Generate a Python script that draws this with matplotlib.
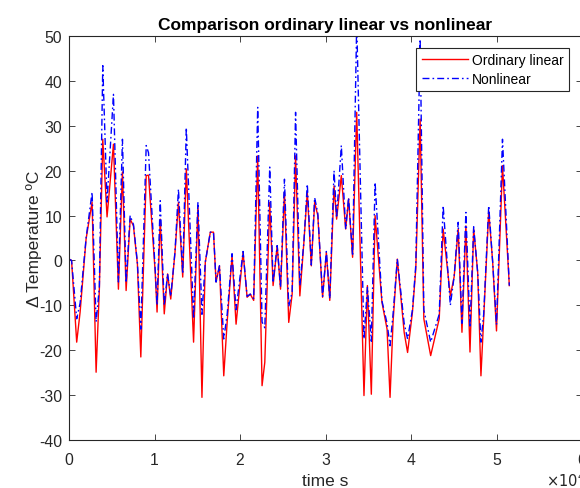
import matplotlib
matplotlib.use("Agg")
import matplotlib.pyplot as plt
import numpy as np

# time in units of 1e4 s
time_e4 = [0.00, 0.03, 0.09, 0.13, 0.20, 0.27, 0.317, 0.355, 0.395, 0.445,
           0.52, 0.578, 0.625, 0.668, 0.715, 0.754, 0.80, 0.84, 0.903, 0.93,
           1.008, 1.03, 1.067, 1.114, 1.153, 1.19, 1.24, 1.28, 1.33, 1.372,
           1.457, 1.508, 1.555, 1.594, 1.653, 1.69, 1.72, 1.76, 1.81, 1.85,
           1.907, 1.954, 2.036, 2.083, 2.12, 2.16, 2.207, 2.258, 2.29, 2.348,
           2.387, 2.435, 2.474, 2.52, 2.57, 2.61, 2.65, 2.70, 2.747, 2.787,
           2.834, 2.873, 2.91, 2.966, 3.01, 3.05, 3.10, 3.13, 3.185, 3.236,
           3.27, 3.317, 3.365, 3.45, 3.49, 3.536, 3.58, 3.66, 3.72, 3.755,
           3.79, 3.84, 3.92, 3.96, 4.017, 4.056, 4.107, 4.15, 4.23, 4.33,
           4.376, 4.46, 4.505, 4.552, 4.596, 4.642, 4.69, 4.733, 4.78, 4.818,
           4.85, 4.909, 4.955, 5.0, 5.07, 5.15]

ordinary_linear = [0.3, 0.0, -18.2, -11.5, 4.8, 13.0, -24.9, -6.4, 27.0, 9.7,
                   25.9, -6.4, 19.7, -6.7, 9.2, 7.7, -0.8, -21.5, 18.9, 19.0,
                   -2.6, -11.5, 9.2, -11.9, -3.0, -8.6, 1.9, 12.9, -3.7, 20.4,
                   -18.2, 12.2, -30.5, -0.4, 6.3, 6.3, -4.8, -1.2, -25.7, -13.7,
                   1.1, -14.2, 1.8, -8.2, -7.5, -8.9, 23.3, -27.9, -22.7, 12.9,
                   -5.6, 3.3, -6.4, 15.2, -13.8, -7.5, 23.3, -7.9, 4.0, 15.2,
                   -1.2, 12.9, 10.0, -8.2, 1.8, -8.9, 16.6, 9.2, 18.9, 7.0,
                   13.7, 0.7, 33.0, -30.1, -5.6, -29.8, 10.0, -9.3, -15.3, -30.5,
                   -13.7, 0.3, -16.0, -20.5, -11.5, -1.9, 31.5, -13.0, -21.2, -13.0,
                   7.0, -7.9, -3.6, 7.0, -16.0, 7.7, -20.4, 7.0, -2.7, -25.7,
                   -13.0, 11.0, -0.3, -15.7, 21.1, -5.6]

nonlinear = [0.3, 0.0, -13.0, -9.5, 5.0, 15.2, -13.7, -6.0, 43.4, 13.0,
             37.0, -4.8, 27.0, -5.0, 10.0, 8.0, -0.5, -15.3, 25.6, 24.0,
             -2.0, -10.0, 13.3, -10.0, -3.0, -8.0, 2.0, 15.9, -3.0, 29.6,
             -13.0, 13.0, -12.0, -0.4, 6.3, 6.3, -4.8, -1.2, -17.5, -12.0,
             1.5, -11.0, 2.0, -8.0, -7.5, -8.5, 34.1, -13.7, -15.0, 20.8,
             -5.0, 3.3, -6.0, 18.1, -10.3, -7.0, 33.0, -5.6, 4.0, 17.0,
             -1.0, 14.0, 10.5, -8.0, 2.0, -8.5, 20.0, 9.5, 25.6, 7.0,
             14.0, 1.0, 53.0, -17.5, -6.0, -18.0, 17.4, -9.0, -14.0, -19.0,
             -12.0, 0.3, -14.0, -17.5, -11.0, -1.0, 49.3, -11.0, -18.2, -12.0,
             12.2, -10.0, -3.5, 8.5, -14.0, 10.7, -15.0, 7.5, -2.7, -18.2,
             -12.0, 12.2, -0.3, -14.3, 27.0, -5.6]

time_s = np.array(time_e4) * 1e4

xticks = [0, 10000, 20000, 30000, 40000, 50000, 60000]
xtick_labels = ["0", "1", "2", "3", "4", "5", "6"]
yticks = [-40, -30, -20, -10, 0, 10, 20, 30, 40, 50]

plt.rcParams['font.family'] = ['Liberation Sans', 'DejaVu Sans']
plt.rcParams['axes.unicode_minus'] = False

W, H = 580, 489
fig = plt.figure(figsize=(W / 100, H / 100), dpi=100)
ax = fig.add_axes([69 / W, 1 - 441 / H, (582 - 69) / W, (441 - 37) / H])

ax.plot(time_s, ordinary_linear, color='#ff0000', lw=1.0, label='Ordinary linear')
ax.plot(time_s, nonlinear, color='#0000ff', lw=1.0, dashes=(5, 2.2, 1.2, 2.2),
        label='Nonlinear')

ax.set_xlim(0, 60000)
ax.set_ylim(-40, 50)
ax.set_xticks(xticks)
ax.set_xticklabels(xtick_labels)
ax.set_yticks(yticks)

spine_col = '#262626'
for s in ax.spines.values():
    s.set_color(spine_col)
    s.set_linewidth(0.8)
ax.tick_params(direction='in', top=True, right=True, length=4, width=0.6,
               colors=spine_col, labelsize=11.3)
ax.tick_params(axis='x', pad=9)
ax.tick_params(axis='y', pad=5)
for lbl in ax.get_xticklabels() + ax.get_yticklabels():
    lbl.set_color('#262626')

ax.set_title('Comparison ordinary linear vs nonlinear', fontsize=12.5,
             fontweight='bold', pad=5, color='black')
ax.set_xlabel('time s', fontsize=12.5, color='#262626')
ax.xaxis.set_label_coords(0.5, -(474 - 441) / (441 - 37))
ax.xaxis.label.set_va('top')
ax.set_ylabel('Δ Temperature ºC', fontsize=12.5, color='#262626')
ax.yaxis.set_label_coords((42 - 69) / (582 - 69), 0.5)

fig.text(546 / W, 1 - 481 / H, r'$\times10^{4}$', fontsize=10.5, color='#262626',
         ha='left', va='center')

leg = ax.legend(loc='upper right', bbox_to_anchor=(569 / W, 1 - 48.5 / H),
                bbox_transform=fig.transFigure, borderaxespad=0,
                fontsize=10, handlelength=3.3, handletextpad=0.3,
                borderpad=0.4, labelspacing=0.35, frameon=True, fancybox=False)
leg.get_frame().set_edgecolor('#262626')
leg.get_frame().set_linewidth(0.8)
leg.get_frame().set_alpha(1)

fig.savefig('out.png', dpi=100)
